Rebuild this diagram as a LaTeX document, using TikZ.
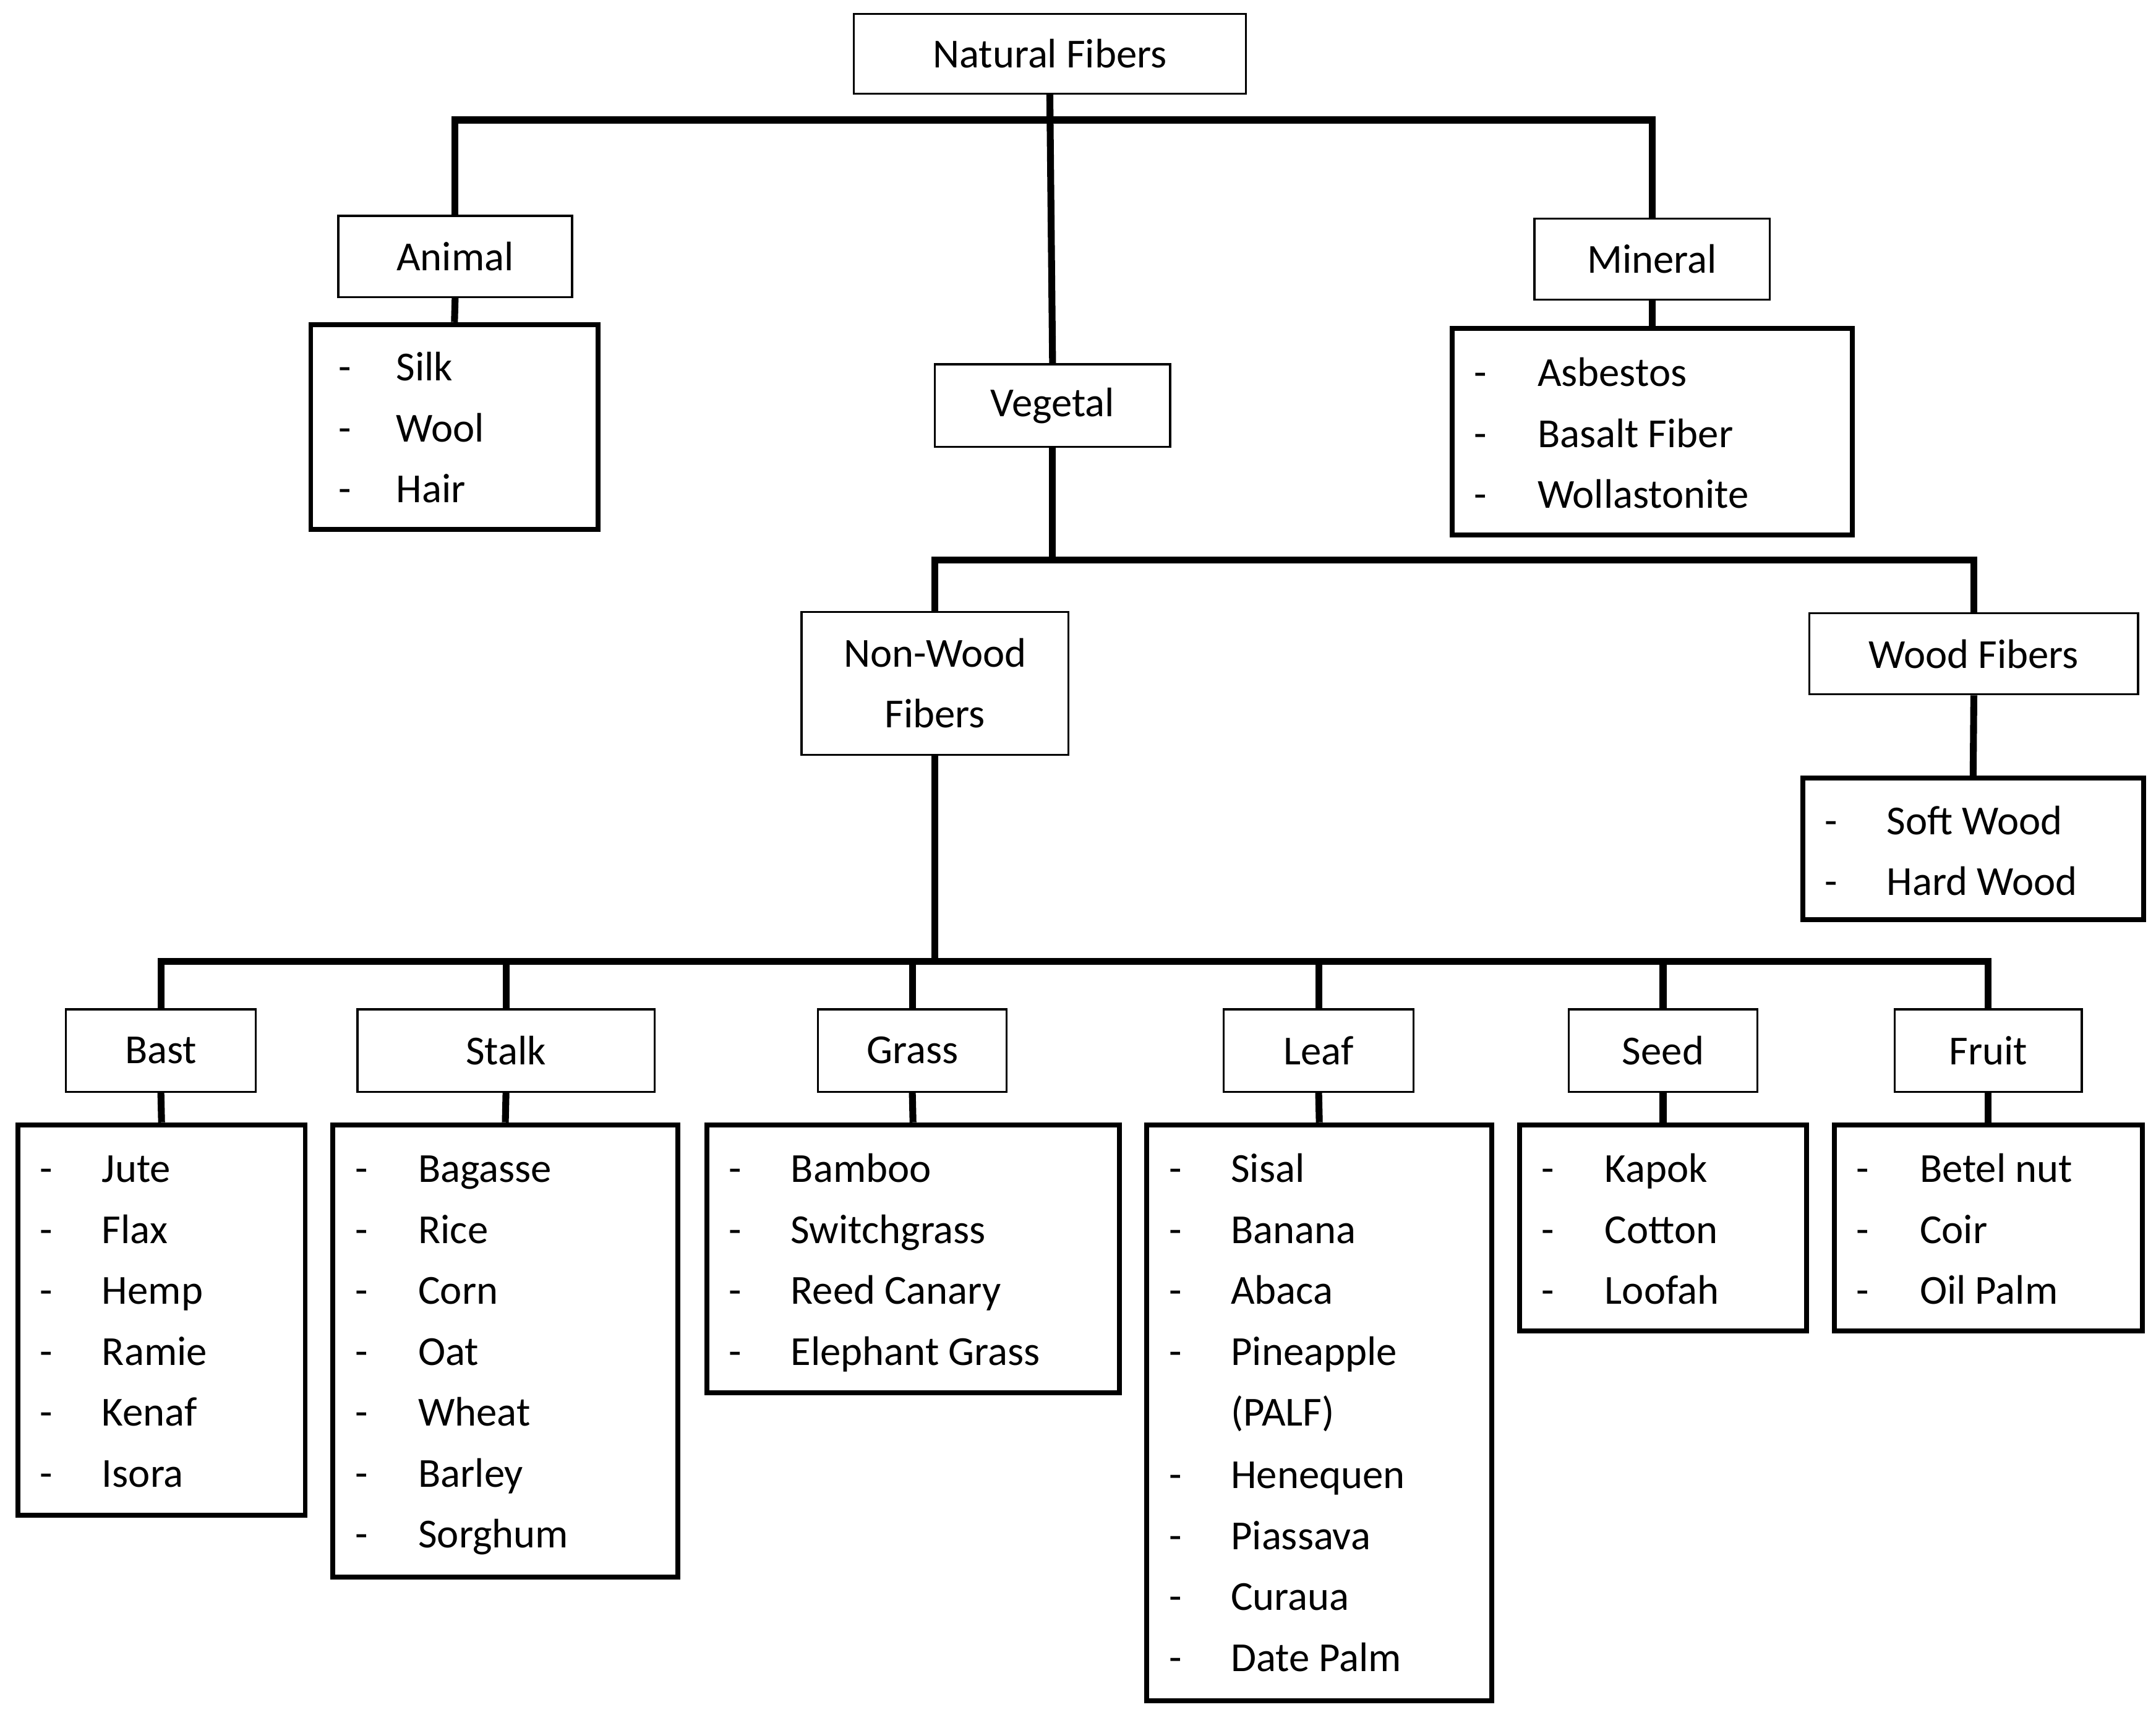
\documentclass[tikz,border=0pt]{standalone}
\usepackage{fontspec}
\setmainfont{Carlito}
\begin{document}
\begin{tikzpicture}[x=1pt,y=-1pt,
  lab/.style={draw,line width=1.5pt,inner sep=0pt,align=center,font=\fontsize{30}{44}\selectfont},
  lst/.style={draw,line width=3.5pt,inner sep=0pt},
  conn/.style={line width=5pt},
  itm/.style={anchor=base west,inner sep=0pt,font=\fontsize{30}{36}\selectfont}]
\useasboundingbox (0,0) rectangle (1568,1247);
\newcommand\mklist[4]{%
  \foreach \t [count=\i] in {#4}{%
    \pgfmathsetmacro\yy{#3+11+(\i-1)*44.3}
    \node[itm] at (#1,\yy) {-};
    \node[itm] at (#2,\yy) {\t};}}
% title boxes
\node[lab,minimum width=285pt,minimum height=58pt] (nat) at (763.5,39) {Natural Fibers};
\node[lab,minimum width=170pt,minimum height=59pt] (an) at (331,186.5) {Animal};
\node[lab,minimum width=171pt,minimum height=60pt] (veg) at (765.5,295) {Vegetal};
\node[lab,minimum width=171pt,minimum height=59pt] (mi) at (1201.5,188.5) {Mineral};
\node[lab,minimum width=194pt,minimum height=104pt] (nw) at (680,497) {Non-Wood\\Fibers};
\node[lab,minimum width=239pt,minimum height=59pt] (wf) at (1435.5,475.5) {Wood Fibers};
\node[lab,minimum width=138pt,minimum height=60pt] (c1) at (117,764) {Bast};
\node[lab,minimum width=216pt,minimum height=60pt] (c2) at (368,764) {Stalk};
\node[lab,minimum width=137pt,minimum height=60pt] (c3) at (663.5,764) {Grass};
\node[lab,minimum width=138pt,minimum height=60pt] (c4) at (959,764) {Leaf};
\node[lab,minimum width=137pt,minimum height=60pt] (c5) at (1209.5,764) {Seed};
\node[lab,minimum width=136pt,minimum height=60pt] (c6) at (1446,764) {Fruit};
% list boxes
\node[lst,minimum width=209pt,minimum height=149pt] (l-an) at (330.5,310.5) {};
\node[lst,minimum width=291pt,minimum height=150pt] (l-mi) at (1201.5,314) {};
\node[lst,minimum width=248pt,minimum height=103pt] (l-wf) at (1435,617.5) {};
\node[lst,minimum width=209pt,minimum height=284pt] (l1) at (117.5,960) {};
\node[lst,minimum width=251pt,minimum height=329pt] (l2) at (367.5,982.5) {};
\node[lst,minimum width=300pt,minimum height=195pt] (l3) at (664,915.5) {};
\node[lst,minimum width=251pt,minimum height=419pt] (l4) at (959.5,1027.5) {};
\node[lst,minimum width=209pt,minimum height=150pt] (l5) at (1209.5,893) {};
\node[lst,minimum width=224pt,minimum height=150pt] (l6) at (1446,893) {};
% items
\mklist{246}{288}{266}{Silk,Wool,Hair}
\mklist{1072}{1118}{270}{Asbestos,Basalt Fiber,Wollastonite}
\mklist{1327}{1372}{596}{Soft Wood,Hard Wood}
\mklist{29}{74}{849}{Jute,Flax,Hemp,Ramie,Kenaf,Isora}
\mklist{258}{304}{849}{Bagasse,Rice,Corn,Oat,Wheat,Barley,Sorghum}
\mklist{530}{575}{849}{Bamboo,Switchgrass,Reed Canary,Elephant Grass}
\mklist{850}{895}{849}{Sisal,Banana,Abaca,Pineapple}
\node[itm] at (895,1037.2) {(PALF)};
\mklist{850}{895}{1071.5}{Henequen,Piassava,Curaua,Date Palm}
\mklist{1121}{1167}{849}{Kapok,Cotton,Loofah}
\mklist{1350}{1396}{849}{Betel nut,Coir,Oil Palm}
% connectors
\draw[conn] (an.north) -- ++(0,-69) -| (mi.north);
\draw[conn] (nat.south) -- (veg.north);
\draw[conn] (an.south) -- (l-an.north);
\draw[conn] (mi.south) -- (l-mi.north);
\draw[conn] (veg.south) -- ++(0,83);
\draw[conn] (nw.north) -- ++(0,-37) -| (wf.north);
\draw[conn] (wf.south) -- (l-wf.north);
\draw[conn] (nw.south) -- ++(0,151);
\draw[conn] (c1.north) -- ++(0,-34) -| (c6.north);
\foreach \c in {c2,c3,c4,c5}{\draw[conn] (\c.north) -- ++(0,-34);}
\foreach \c/\l in {c1/l1,c2/l2,c3/l3,c4/l4,c5/l5,c6/l6}{\draw[conn] (\c.south) -- (\l.north);}
\end{tikzpicture}
\end{document}
